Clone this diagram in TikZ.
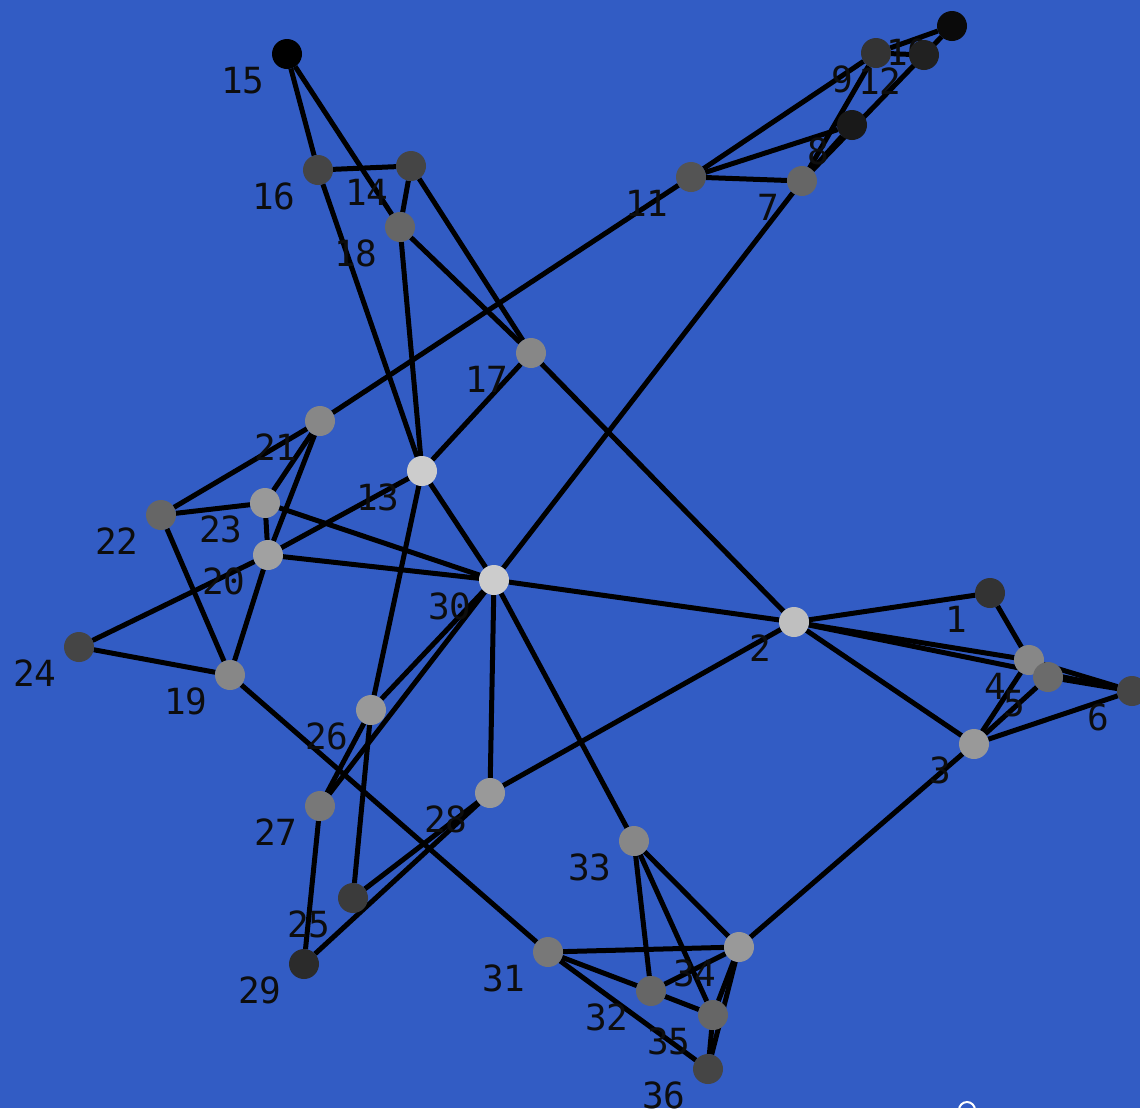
\documentclass[tikz,border=0pt]{standalone}
\usepackage{fontspec}
\setmonofont{DejaVu Sans Mono}
\usepackage{xcolor}
\usetikzlibrary{positioning,backgrounds}
\definecolor{bgblue}{RGB}{50,92,196}
\pgfdeclarelayer{labels}
\pgfsetlayers{background,labels,main}

\begin{document}
\begin{tikzpicture}[
    vertex/.style={circle, minimum size=0.6cm, inner sep=0pt, outer sep=0pt},
    lbl/.style={inner sep=0pt, font=\ttfamily\fontsize{20.5}{24}\selectfont, text=black!95},
    edge/.style={line width=0.1cm, black}
  ]

    \useasboundingbox (0,0) rectangle (22.8,-22.16);

    % Vertices
    \node[vertex, fill=black!80] (n1) at (19.80,-11.86) {};
    \node[vertex, fill=black!25] (n2) at (15.88,-12.44) {};
    \node[vertex, fill=black!40] (n3) at (19.48,-14.88) {};
    \node[vertex, fill=black!47] (n4) at (20.58,-13.20) {};
    \node[vertex, fill=black!58] (n5) at (20.96,-13.54) {};
    \node[vertex, fill=black!73] (n6) at (22.64,-13.82) {};
    \node[vertex, fill=black!60] (n7) at (16.04,-3.62) {};
    \node[vertex, fill=black!90] (n8) at (17.04,-2.50) {};
    \node[vertex, fill=black!80] (n9) at (17.52,-1.06) {};
    \node[vertex, fill=black!96] (n10) at (19.04,-0.52) {};
    \node[vertex, fill=black!67] (n11) at (13.82,-3.54) {};
    \node[vertex, fill=black!87] (n12) at (18.48,-1.10) {};
    \node[vertex, fill=black!20] (n13) at (8.44,-9.42) {};
    \node[vertex, fill=black!73] (n14) at (8.22,-3.32) {};
    \node[vertex, fill=black] (n15) at (5.74,-1.08) {};
    \node[vertex, fill=black!73] (n16) at (6.36,-3.40) {};
    \node[vertex, fill=black!47] (n17) at (10.62,-7.06) {};
    \node[vertex, fill=black!60] (n18) at (8.00,-4.54) {};
    \node[vertex, fill=black!47] (n19) at (4.60,-13.50) {};
    \node[vertex, fill=black!37] (n20) at (5.36,-11.10) {};
    \node[vertex, fill=black!47] (n21) at (6.40,-8.42) {};
    \node[vertex, fill=black!60] (n22) at (3.22,-10.30) {};
    \node[vertex, fill=black!40] (n23) at (5.30,-10.06) {};
    \node[vertex, fill=black!73] (n24) at (1.58,-12.94) {};
    \node[vertex, fill=black!77] (n25) at (7.06,-17.96) {};
    \node[vertex, fill=black!40] (n26) at (7.42,-14.20) {};
    \node[vertex, fill=black!53] (n27) at (6.40,-16.12) {};
    \node[vertex, fill=black!40] (n28) at (9.80,-15.86) {};
    \node[vertex, fill=black!83] (n29) at (6.08,-19.28) {};
    \node[vertex, fill=black!20] (n30) at (9.88,-11.60) {};
    \node[vertex, fill=black!53] (n31) at (10.96,-19.04) {};
    \node[vertex, fill=black!60] (n32) at (13.02,-19.82) {};
    \node[vertex, fill=black!47] (n33) at (12.68,-16.82) {};
    \node[vertex, fill=black!40] (n34) at (14.78,-18.94) {};
    \node[vertex, fill=black!60] (n35) at (14.26,-20.30) {};
    \node[vertex, fill=black!73] (n36) at (14.16,-21.38) {};

    % Labels (under the vertices, over the edges)
    \begin{pgfonlayer}{labels}
    \foreach \i in {1,...,36} {
        \node[lbl, below left=0.045cm and 0.23cm of n\i] {\i};
    }
    \end{pgfonlayer}

    % Partial white mark at the bottom edge
    \draw[white, line width=0.04cm] (19.34,-22.20) circle (0.16);

    \begin{pgfonlayer}{background}
    % Background
    \fill[bgblue] (0,0) rectangle (22.8,-22.16);

    % Edges
    \draw[edge] (n15) -- (n16);
    \draw[edge] (n15) -- (n18);
    \draw[edge] (n16) -- (n14);
    \draw[edge] (n16) -- (n13);
    \draw[edge] (n14) -- (n18);
    \draw[edge] (n14) -- (n17);
    \draw[edge] (n18) -- (n17);
    \draw[edge] (n18) -- (n13);
    \draw[edge] (n17) -- (n13);
    \draw[edge] (n17) -- (n2);
    \draw[edge] (n11) -- (n7);
    \draw[edge] (n11) -- (n9);
    \draw[edge] (n11) -- (n8);
    \draw[edge] (n11) -- (n21);
    \draw[edge] (n10) -- (n9);
    \draw[edge] (n9) -- (n12);
    \draw[edge] (n10) -- (n7);
    \draw[edge] (n8) -- (n7);
    \draw[edge] (n9) -- (n7);
    \draw[edge] (n7) -- (n30);
    \draw[edge] (n21) -- (n22);
    \draw[edge] (n21) -- (n23);
    \draw[edge] (n21) -- (n20);
    \draw[edge] (n22) -- (n23);
    \draw[edge] (n22) -- (n19);
    \draw[edge] (n23) -- (n20);
    \draw[edge] (n23) -- (n30);
    \draw[edge] (n20) -- (n30);
    \draw[edge] (n20) -- (n13);
    \draw[edge] (n20) -- (n24);
    \draw[edge] (n20) -- (n19);
    \draw[edge] (n24) -- (n19);
    \draw[edge] (n19) -- (n31);
    \draw[edge] (n13) -- (n30);
    \draw[edge] (n13) -- (n26);
    \draw[edge] (n30) -- (n26);
    \draw[edge] (n30) -- (n27);
    \draw[edge] (n26) -- (n27);
    \draw[edge] (n26) -- (n25);
    \draw[edge] (n27) -- (n29);
    \draw[edge] (n25) -- (n28);
    \draw[edge] (n29) -- (n28);
    \draw[edge] (n28) -- (n30);
    \draw[edge] (n28) -- (n2);
    \draw[edge] (n30) -- (n2);
    \draw[edge] (n30) -- (n33);
    \draw[edge] (n2) -- (n1);
    \draw[edge] (n2) -- (n4);
    \draw[edge] (n2) -- (n6);
    \draw[edge] (n4) -- (n6);
    \draw[edge] (n5) -- (n6);
    \draw[edge] (n1) -- (n4);
    \draw[edge] (n3) -- (n4);
    \draw[edge] (n3) -- (n5);
    \draw[edge] (n3) -- (n6);
    \draw[edge] (n3) -- (n2);
    \draw[edge] (n3) -- (n34);
    \draw[edge] (n33) -- (n34);
    \draw[edge] (n33) -- (n32);
    \draw[edge] (n33) -- (n35);
    \draw[edge] (n31) -- (n34);
    \draw[edge] (n31) -- (n32);
    \draw[edge] (n31) -- (n36);
    \draw[edge] (n32) -- (n34);
    \draw[edge] (n32) -- (n35);
    \draw[edge] (n34) -- (n35);
    \draw[edge] (n34) -- (n36);
    \draw[edge] (n35) -- (n36);
    \end{pgfonlayer}

\end{tikzpicture}
\end{document}
